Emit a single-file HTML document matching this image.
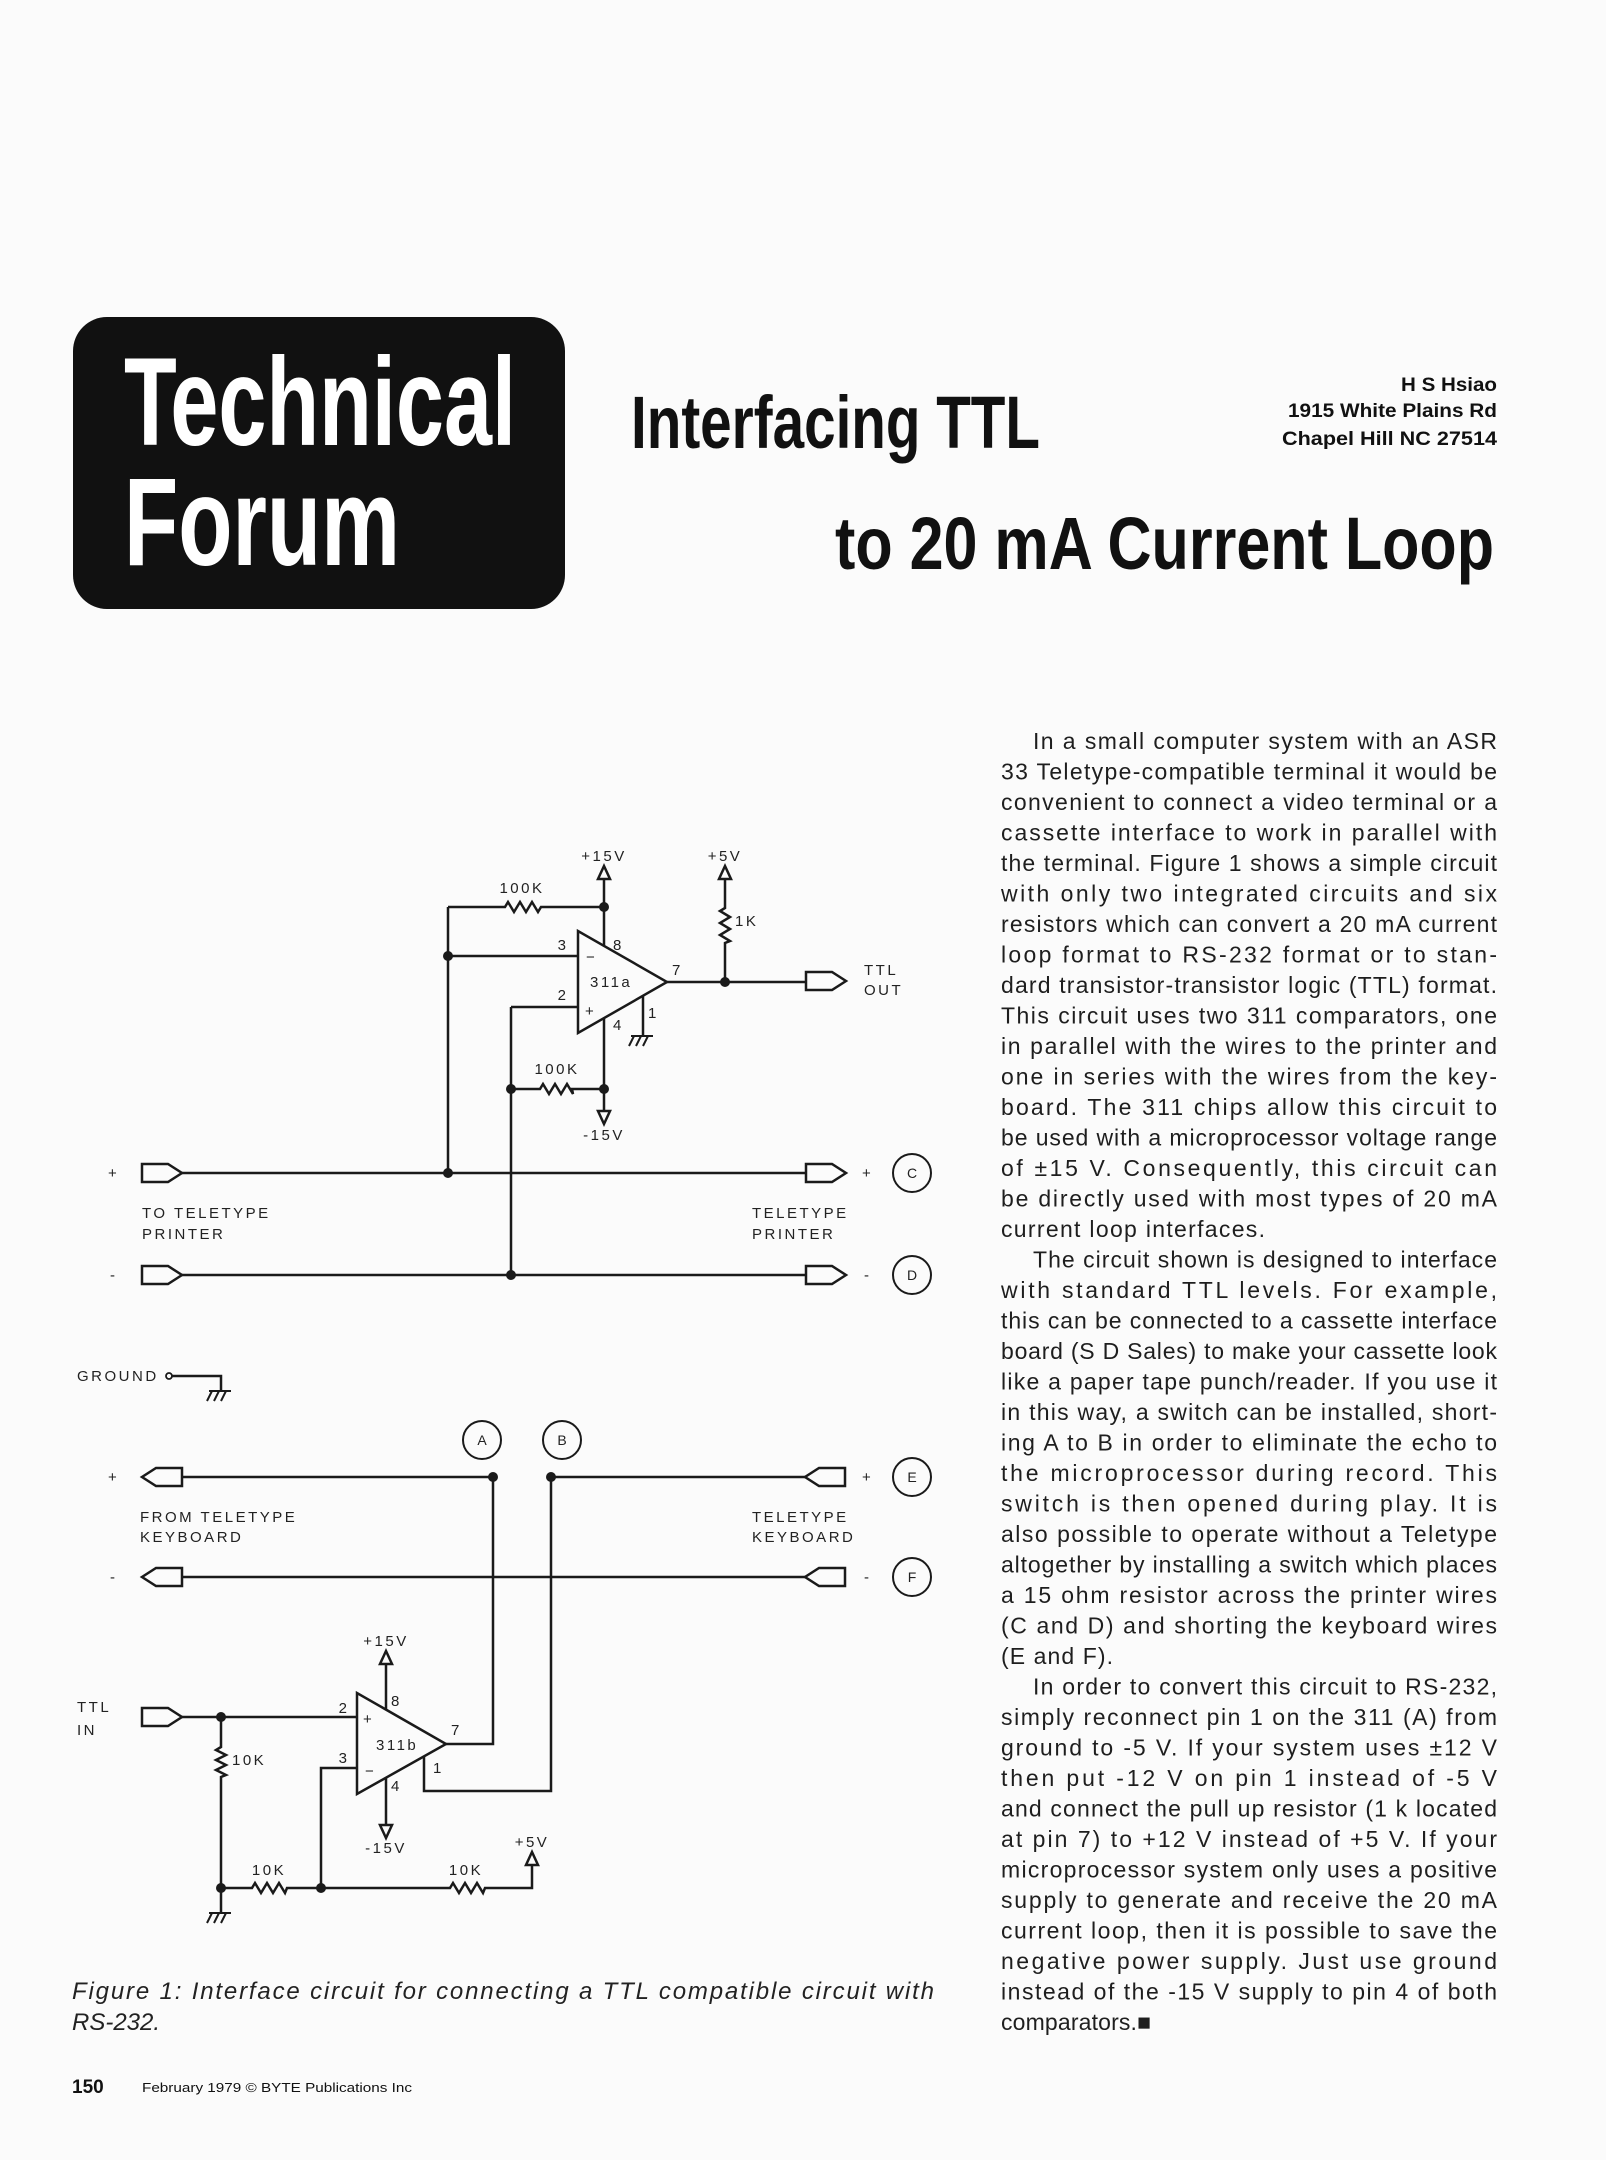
<!DOCTYPE html>
<html><head><meta charset="utf-8"><style>
html,body{margin:0;padding:0;background:#fbfbfb;}
svg{display:block;}
.d{font-family:"Liberation Sans",sans-serif;font-size:15px;letter-spacing:2.5px;fill:#222;}
.b{font-family:"Liberation Sans",sans-serif;font-size:23px;fill:#1e1e1e;}
</style></head><body>
<svg width="1606" height="2160" viewBox="0 0 1606 2160" xmlns="http://www.w3.org/2000/svg">
<rect width="1606" height="2160" fill="#fbfbfb"/>
<!-- header -->
<rect x="73" y="317" width="492" height="292" rx="34" fill="#111"/>
<text x="124" y="445" font-family="Liberation Sans,sans-serif" font-weight="bold" font-size="125" fill="#fff" textLength="392" lengthAdjust="spacingAndGlyphs">Technical</text>
<text x="124" y="565" font-family="Liberation Sans,sans-serif" font-weight="bold" font-size="125" fill="#fff" textLength="276" lengthAdjust="spacingAndGlyphs">Forum</text>
<text x="631" y="448" font-family="Liberation Sans,sans-serif" font-weight="bold" font-size="74" fill="#111" textLength="409" lengthAdjust="spacingAndGlyphs">Interfacing TTL</text>
<text x="835" y="569" font-family="Liberation Sans,sans-serif" font-weight="bold" font-size="74" fill="#111" textLength="659" lengthAdjust="spacingAndGlyphs">to 20 mA Current Loop</text>
<g font-family="Liberation Sans,sans-serif" font-weight="bold" font-size="19" fill="#111" text-anchor="end">
<text x="1497" y="391" textLength="96" lengthAdjust="spacingAndGlyphs">H S Hsiao</text>
<text x="1497" y="417" textLength="209" lengthAdjust="spacingAndGlyphs">1915 White Plains Rd</text>
<text x="1497" y="445" textLength="215" lengthAdjust="spacingAndGlyphs">Chapel Hill NC 27514</text>
</g>

<!-- diagram -->
<g fill="none" stroke="#1a1a1a" stroke-width="2.5">
<path d="M448,907 H505 l3,-5 l6,10 l6,-10 l6,10 l6,-10 l6,10 l3,-5 H604"/>
<path d="M448,907 V1173"/>
<path d="M448,956 H578"/>
<path d="M604,879 V946"/>
<polygon points="578,931 578,1033 667,982"/>
<path d="M604,1018 V1111"/>
<path d="M511,1089 H540 l3,-5 l6,10 l6,-10 l6,10 l6,-10 l6,10 l-1,-5 H604"/>
<path d="M511,1007 H578 M511,1007 V1275"/>
<path d="M643,996 V1036"/>
<path d="M667,982 H806"/>
<path d="M725,879 V908 l-5,3 l10,6 l-10,6 l10,6 l-10,6 l10,6 l-5,2 V982"/>
<polygon points="598,879 610,879 604,866"/>
<polygon points="719,879 731,879 725,866"/>
<polygon points="598,1111 610,1111 604,1124"/>
<polygon points="806,972 832,972 846,981 832,990 806,990"/>
<path d="M182,1173 H806 M182,1275 H806"/>
<polygon points="142,1164 168,1164 182,1173 168,1182 142,1182"/>
<polygon points="806,1164 832,1164 846,1173 832,1182 806,1182"/>
<polygon points="142,1266 168,1266 182,1275 168,1284 142,1284"/>
<polygon points="806,1266 832,1266 846,1275 832,1284 806,1284"/>
<circle cx="912" cy="1173" r="19" stroke-width="2"/>
<circle cx="912" cy="1275" r="19" stroke-width="2"/>
<path d="M631,1036 H653 M634,1036 l-5,10 M641,1036 l-5,10 M648,1036 l-5,10" stroke-width="2"/>
<circle cx="169" cy="1376" r="3" stroke-width="1.8"/>
<path d="M172,1376 H221 V1391"/>
<path d="M209,1391 H231 M212,1391 l-5,10 M219,1391 l-5,10 M226,1391 l-5,10" stroke-width="2"/>
<circle cx="482" cy="1440" r="19" stroke-width="2"/>
<circle cx="562" cy="1440" r="19" stroke-width="2"/>
<path d="M182,1477 H493 V1744 H446"/>
<path d="M806,1477 H551 V1791 H424 V1756"/>
<path d="M182,1577 H806"/>
<polygon points="182,1468 156,1468 142,1477 156,1486 182,1486"/>
<polygon points="845,1468 819,1468 805,1477 819,1486 845,1486"/>
<polygon points="182,1568 156,1568 142,1577 156,1586 182,1586"/>
<polygon points="845,1568 819,1568 805,1577 819,1586 845,1586"/>
<circle cx="912" cy="1477" r="19" stroke-width="2"/>
<circle cx="912" cy="1577" r="19" stroke-width="2"/>
<polygon points="357,1693 357,1794 446,1744"/>
<path d="M386,1664 V1709 M386,1778 V1825"/>
<polygon points="380,1664 392,1664 386,1651"/>
<polygon points="380,1825 392,1825 386,1838"/>
<polygon points="142,1708 168,1708 182,1717 168,1726 142,1726"/>
<path d="M182,1717 H357"/>
<path d="M221,1717 V1747 l-5,3 l10,5 l-10,5 l10,5 l-10,5 l10,5 l-5,2 V1913"/>
<path d="M357,1768 H321 V1888"/>
<path d="M221,1888 H252 l3,-5 l6,10 l6,-10 l6,10 l6,-10 l6,10 l2,-5 H450 l3,-5 l6,10 l6,-10 l6,10 l6,-10 l6,10 l2,-5 H532 V1865"/>
<polygon points="526,1865 538,1865 532,1852"/>
<path d="M209,1913 H231 M212,1913 l-5,10 M219,1913 l-5,10 M226,1913 l-5,10" stroke-width="2"/>
</g>
<g fill="#1a1a1a">
<circle cx="604" cy="907" r="5"/><circle cx="448" cy="956" r="5"/><circle cx="448" cy="1173" r="5"/>
<circle cx="511" cy="1089" r="5"/><circle cx="604" cy="1089" r="5"/><circle cx="511" cy="1275" r="5"/>
<circle cx="725" cy="982" r="5"/>
<circle cx="493" cy="1477" r="5"/><circle cx="551" cy="1477" r="5"/>
<circle cx="221" cy="1717" r="5"/><circle cx="221" cy="1888" r="5"/><circle cx="321" cy="1888" r="5"/>
</g>
<g class="d">
<text x="604" y="861" text-anchor="middle">+15V</text>
<text x="725" y="861" text-anchor="middle">+5V</text>
<text x="522" y="893" text-anchor="middle">100K</text>
<text x="557" y="1074" text-anchor="middle">100K</text>
<text x="604" y="1140" text-anchor="middle">-15V</text>
<text x="735" y="926">1K</text>
<text x="563" y="950" text-anchor="middle">3</text>
<text x="563" y="1000" text-anchor="middle">2</text>
<text x="613" y="950">8</text>
<text x="613" y="1030">4</text>
<text x="648" y="1018">1</text>
<text x="672" y="975">7</text>
<text x="586" y="962">−</text>
<text x="585" y="1016">+</text>
<text x="590" y="987">311a</text>
<text x="864" y="975">TTL</text>
<text x="864" y="995">OUT</text>
<text x="108" y="1178">+</text>
<text x="862" y="1178">+</text>
<text x="110" y="1280">-</text>
<text x="864" y="1280">-</text>
<text x="912" y="1178" text-anchor="middle" font-size="14" letter-spacing="0">C</text>
<text x="912" y="1280" text-anchor="middle" font-size="14" letter-spacing="0">D</text>
<text x="142" y="1218">TO TELETYPE</text>
<text x="142" y="1239">PRINTER</text>
<text x="752" y="1218">TELETYPE</text>
<text x="752" y="1239">PRINTER</text>
<text x="77" y="1381">GROUND</text>
<text x="482" y="1445" text-anchor="middle" font-size="14" letter-spacing="0">A</text>
<text x="562" y="1445" text-anchor="middle" font-size="14" letter-spacing="0">B</text>
<text x="912" y="1482" text-anchor="middle" font-size="14" letter-spacing="0">E</text>
<text x="912" y="1582" text-anchor="middle" font-size="14" letter-spacing="0">F</text>
<text x="108" y="1482">+</text>
<text x="862" y="1482">+</text>
<text x="110" y="1582">-</text>
<text x="864" y="1582">-</text>
<text x="140" y="1522">FROM TELETYPE</text>
<text x="140" y="1542">KEYBOARD</text>
<text x="752" y="1522">TELETYPE</text>
<text x="752" y="1542">KEYBOARD</text>
<text x="386" y="1646" text-anchor="middle">+15V</text>
<text x="386" y="1853" text-anchor="middle">-15V</text>
<text x="532" y="1847" text-anchor="middle">+5V</text>
<text x="269" y="1875" text-anchor="middle">10K</text>
<text x="466" y="1875" text-anchor="middle">10K</text>
<text x="232" y="1765">10K</text>
<text x="77" y="1712">TTL</text>
<text x="77" y="1735">IN</text>
<text x="344" y="1713" text-anchor="middle">2</text>
<text x="344" y="1763" text-anchor="middle">3</text>
<text x="391" y="1706">8</text>
<text x="391" y="1791">4</text>
<text x="433" y="1773">1</text>
<text x="451" y="1735">7</text>
<text x="363" y="1724">+</text>
<text x="365" y="1776">−</text>
<text x="376" y="1750">311b</text>
</g>
<g font-family="Liberation Sans,sans-serif" font-style="italic" font-size="24" fill="#222">
<text x="72" y="1999" textLength="862" lengthAdjust="spacing">Figure 1: Interface circuit for connecting a TTL compatible circuit with</text>
<text x="72" y="2030">RS-232.</text>
</g>
<text x="72" y="2093" font-family="Liberation Sans,sans-serif" font-weight="bold" font-size="19" fill="#111">150</text>
<text x="142" y="2092" font-family="Liberation Sans,sans-serif" font-size="13" fill="#111" textLength="270" lengthAdjust="spacingAndGlyphs">February 1979 © BYTE Publications Inc</text>
<g class="b">
<text x="1033" y="749" textLength="464" lengthAdjust="spacing">In a small computer system with an ASR</text>
<text x="1001" y="779.5" textLength="496" lengthAdjust="spacing">33 Teletype-compatible terminal it would be</text>
<text x="1001" y="810" textLength="496" lengthAdjust="spacing">convenient to connect a video terminal or a</text>
<text x="1001" y="840.5" textLength="496" lengthAdjust="spacing">cassette interface to work in parallel with</text>
<text x="1001" y="871" textLength="496" lengthAdjust="spacing">the terminal. Figure 1 shows a simple circuit</text>
<text x="1001" y="901.5" textLength="496" lengthAdjust="spacing">with only two integrated circuits and six</text>
<text x="1001" y="932" textLength="496" lengthAdjust="spacing">resistors which can convert a 20 mA current</text>
<text x="1001" y="962.5" textLength="496" lengthAdjust="spacing">loop format to RS-232 format or to stan-</text>
<text x="1001" y="993" textLength="496" lengthAdjust="spacing">dard transistor-transistor logic (TTL) format.</text>
<text x="1001" y="1023.5" textLength="496" lengthAdjust="spacing">This circuit uses two 311 comparators, one</text>
<text x="1001" y="1054" textLength="496" lengthAdjust="spacing">in parallel with the wires to the printer and</text>
<text x="1001" y="1084.5" textLength="496" lengthAdjust="spacing">one in series with the wires from the key-</text>
<text x="1001" y="1115" textLength="496" lengthAdjust="spacing">board. The 311 chips allow this circuit to</text>
<text x="1001" y="1145.5" textLength="496" lengthAdjust="spacing">be used with a microprocessor voltage range</text>
<text x="1001" y="1176" textLength="496" lengthAdjust="spacing">of ±15 V. Consequently, this circuit can</text>
<text x="1001" y="1206.5" textLength="496" lengthAdjust="spacing">be directly used with most types of 20 mA</text>
<text x="1001" y="1237" textLength="264" lengthAdjust="spacing">current loop interfaces.</text>
<text x="1033" y="1267.5" textLength="464" lengthAdjust="spacing">The circuit shown is designed to interface</text>
<text x="1001" y="1298" textLength="496" lengthAdjust="spacing">with standard TTL levels. For example,</text>
<text x="1001" y="1328.5" textLength="496" lengthAdjust="spacing">this can be connected to a cassette interface</text>
<text x="1001" y="1359" textLength="496" lengthAdjust="spacing">board (S D Sales) to make your cassette look</text>
<text x="1001" y="1389.5" textLength="496" lengthAdjust="spacing">like a paper tape punch/reader. If you use it</text>
<text x="1001" y="1420" textLength="496" lengthAdjust="spacing">in this way, a switch can be installed, short-</text>
<text x="1001" y="1450.5" textLength="496" lengthAdjust="spacing">ing A to B in order to eliminate the echo to</text>
<text x="1001" y="1481" textLength="496" lengthAdjust="spacing">the microprocessor during record. This</text>
<text x="1001" y="1511.5" textLength="496" lengthAdjust="spacing">switch is then opened during play. It is</text>
<text x="1001" y="1542" textLength="496" lengthAdjust="spacing">also possible to operate without a Teletype</text>
<text x="1001" y="1572.5" textLength="496" lengthAdjust="spacing">altogether by installing a switch which places</text>
<text x="1001" y="1603" textLength="496" lengthAdjust="spacing">a 15 ohm resistor across the printer wires</text>
<text x="1001" y="1633.5" textLength="496" lengthAdjust="spacing">(C and D) and shorting the keyboard wires</text>
<text x="1001" y="1664" textLength="112" lengthAdjust="spacing">(E and F).</text>
<text x="1033" y="1694.5" textLength="464" lengthAdjust="spacing">In order to convert this circuit to RS-232,</text>
<text x="1001" y="1725" textLength="496" lengthAdjust="spacing">simply reconnect pin 1 on the 311 (A) from</text>
<text x="1001" y="1755.5" textLength="496" lengthAdjust="spacing">ground to -5 V. If your system uses ±12 V</text>
<text x="1001" y="1786" textLength="496" lengthAdjust="spacing">then put -12 V on pin 1 instead of -5 V</text>
<text x="1001" y="1816.5" textLength="496" lengthAdjust="spacing">and connect the pull up resistor (1 k located</text>
<text x="1001" y="1847" textLength="496" lengthAdjust="spacing">at pin 7) to +12 V instead of +5 V. If your</text>
<text x="1001" y="1877.5" textLength="496" lengthAdjust="spacing">microprocessor system only uses a positive</text>
<text x="1001" y="1908" textLength="496" lengthAdjust="spacing">supply to generate and receive the 20 mA</text>
<text x="1001" y="1938.5" textLength="496" lengthAdjust="spacing">current loop, then it is possible to save the</text>
<text x="1001" y="1969" textLength="496" lengthAdjust="spacing">negative power supply. Just use ground</text>
<text x="1001" y="1999.5" textLength="496" lengthAdjust="spacing">instead of the -15 V supply to pin 4 of both</text>
<text x="1001" y="2030" textLength="150" lengthAdjust="spacing">comparators.■</text>
</g>
</svg>
</body></html>
